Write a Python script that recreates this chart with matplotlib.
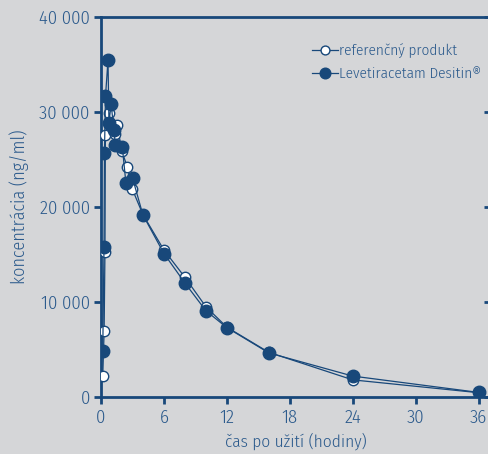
import matplotlib.pyplot as plt
from matplotlib.ticker import FuncFormatter

# Plasmaspiegel Levetiracetam: Referenzprodukt vs. Desitin
cas_ref = [0.17, 0.30, 0.38, 0.42, 0.81, 1.35, 1.54, 2.0, 2.5, 3.0, 4, 6, 8, 10, 12, 16, 24, 36]
konc_ref = [2240, 6900, 15300, 27580, 29930, 27650, 28630, 25860, 24240, 21840,
            19200, 15470, 12600, 9500, 7350, 4700, 1800, 450]

cas_des = [0.17, 0.29, 0.33, 0.43, 0.67, 0.76, 0.97, 1.22, 1.38, 2.03, 2.38, 3.02,
           4, 6, 8, 10, 12, 16, 24, 36]
konc_des = [4800, 15800, 25700, 31650, 35470, 28850, 30840, 28150, 26500, 26350,
            22490, 23000, 19160, 15100, 12000, 9080, 7300, 4640, 2200, 480]

x_ticks = [0, 6, 12, 18, 24, 30, 36]
y_ticks = [0, 10000, 20000, 30000, 40000]

bg = '#d5d6d8'
modra = '#18487a'
text_modra = '#2b5a8c'

plt.rcParams['font.family'] = ['Fira Sans Condensed', 'DejaVu Sans']
plt.rcParams['font.weight'] = 300
plt.rcParams['axes.labelweight'] = 300

fig = plt.figure(figsize=(4.89, 4.54), dpi=100, facecolor=bg)
ax = fig.add_axes([0.2065, 0.1256, 0.798, 0.837], facecolor=bg)

ax.plot(cas_ref, konc_ref, '-o', color=modra, lw=0.9, ms=7.5,
        mfc='white', mec=modra, mew=1.0, label='referenčný produkt', zorder=3)
ax.plot(cas_des, konc_des, '-o', color=modra, lw=0.9, ms=9,
        mfc=modra, mec=modra, label='Levetiracetam Desitin®', zorder=4)

ax.set_xlim(0, 37.2)
ax.set_ylim(0, 40000)
ax.set_xticks(x_ticks)
ax.set_yticks(y_ticks)
ax.yaxis.set_major_formatter(FuncFormatter(lambda v, p: f'{int(v):,}'.replace(',', ' ')))

for s in ax.spines.values():
    s.set_color(modra)
    s.set_linewidth(2)

ax.tick_params(axis='both', colors=modra, labelcolor=text_modra, labelsize=13.5,
               width=2, length=5, direction='out')
ax.tick_params(axis='y', pad=3)

# kurze Striche nach innen am rechten Rand
ax2 = ax.secondary_yaxis('right')
ax2.set_yticks(y_ticks)
ax2.tick_params(direction='in', length=5, width=2, colors=modra, labelright=False)
ax2.spines['right'].set_visible(False)

ax.set_xlabel('čas po užití (hodiny)', color=text_modra, fontsize=12.5, labelpad=4)
ax.set_ylabel('koncentrácia (ng/ml)', color=text_modra, fontsize=13, labelpad=7)

leg = ax.legend(loc='upper left', bbox_to_anchor=(0.54, 0.93), frameon=False,
                fontsize=11, handlelength=1.7, handletextpad=0.1, labelspacing=0.55,
                borderaxespad=0, borderpad=0, markerscale=0.85)
for t in leg.get_texts():
    t.set_color(text_modra)

fig.savefig('out.png', dpi=100, facecolor=bg)
